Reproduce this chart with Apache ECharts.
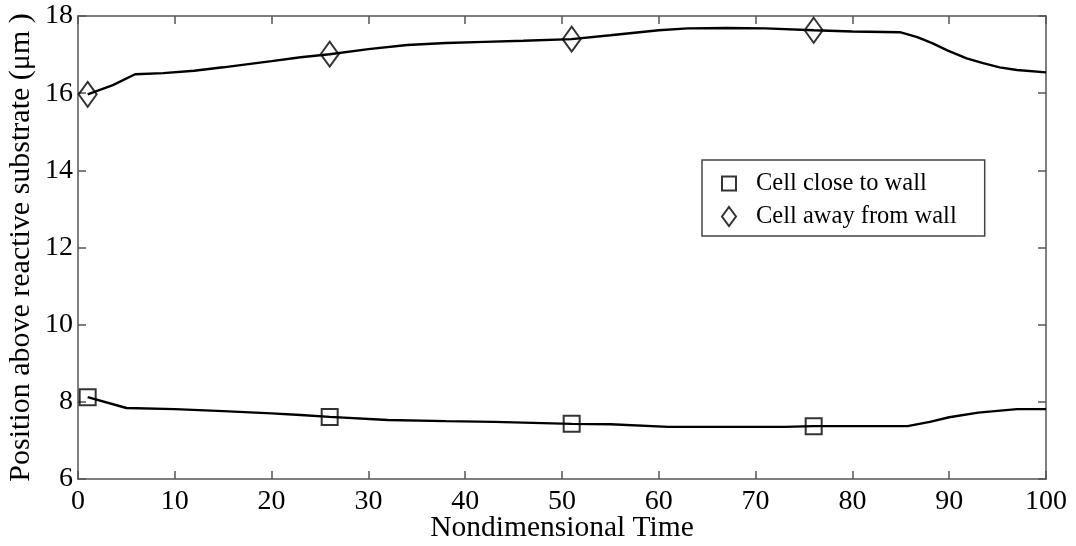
<!DOCTYPE html>
<html><head><meta charset="utf-8">
<script src="https://cdn.jsdelivr.net/npm/echarts@6/dist/echarts.min.js"></script>
<style>html,body{margin:0;padding:0;background:#fff}#c{width:1076px;height:546px}</style>
</head><body><div id="c"></div>
<script>
// Data
const awayTime = [1,3.6,5.9,8.8,12,15,20,23,26,30,34,38,42,46,51,55,60,63,67,71,76,80,84.9,86.7,88.3,89.8,91.8,93.5,95.2,97,100];
const awayPos  = [15.97,16.21,16.49,16.52,16.58,16.67,16.83,16.93,17.01,17.14,17.25,17.3,17.33,17.36,17.40,17.5,17.63,17.68,17.69,17.68,17.63,17.6,17.58,17.45,17.29,17.11,16.9,16.78,16.67,16.6,16.54];
const closeTime = [1,5,10,15,20,23,26,32,38,43,51,55,61,73,76,85.7,88,90,93,97,100];
const closePos  = [8.12,7.84,7.81,7.76,7.7,7.66,7.61,7.53,7.5,7.48,7.43,7.42,7.35,7.35,7.37,7.37,7.48,7.6,7.72,7.81,7.81];
const markTime = [1,26,51,76];
const markClose = [8.12,7.61,7.43,7.37];
const markAway = [15.97,17.01,17.40,17.63];
const xTicks = {min:0,max:100,interval:10};
const yTicks = {min:6,max:18,interval:2};
const seriesNames = ['Cell close to wall','Cell away from wall'];

const zip = (a,b)=>a.map((v,i)=>[v,b[i]]);
const font = 'Liberation Serif';
const axisCol = '#555';
const chart = echarts.init(document.getElementById('c'));
const baseX = {type:'value', min:xTicks.min, max:xTicks.max, interval:xTicks.interval,
  axisLine:{show:true,onZero:false,lineStyle:{color:axisCol,width:1.5}},
  axisTick:{show:true,inside:true,length:8,lineStyle:{color:axisCol,width:1.5}},
  splitLine:{show:false}};
const baseY = {type:'value', min:yTicks.min, max:yTicks.max, interval:yTicks.interval,
  axisLine:{show:true,onZero:false,lineStyle:{color:axisCol,width:1.5}},
  axisTick:{show:true,inside:true,length:8,lineStyle:{color:axisCol,width:1.5}},
  splitLine:{show:false}};
chart.setOption({
  animation:false,
  grid:{left:78,right:30,top:16,bottom:67,containLabel:false,outerBoundsMode:'none'},
  xAxis:[
    Object.assign({},baseX,{position:'bottom',name:'Nondimensional Time',nameLocation:'middle',nameGap:34,nameMoveOverlap:false,
      nameTextStyle:{fontFamily:font,fontSize:29.5,color:'#000'},
      axisLabel:{fontFamily:font,fontSize:28,color:'#000',margin:9}}),
    Object.assign({},baseX,{position:'top',axisLabel:{show:false}})
  ],
  yAxis:[
    Object.assign({},baseY,{position:'left',name:'Position above reactive substrate (\u03bcm )',nameLocation:'middle',nameGap:42,nameMoveOverlap:false,
      nameTextStyle:{fontFamily:font,fontSize:30,color:'#000'},
      axisLabel:{fontFamily:font,fontSize:28,color:'#000',margin:5}}),
    Object.assign({},baseY,{position:'right',axisLabel:{show:false}})
  ],
  legend:{
    left:702, top:160, orient:'vertical',
    data:[{name:seriesNames[0],icon:'path://M0,0H10V10H0Z'},{name:seriesNames[1],icon:'diamond'}],
    itemWidth:14, itemHeight:19, itemGap:8,
    padding:[11,28,7,19],
    borderColor:'#444', borderWidth:1.5, borderRadius:0,
    backgroundColor:'#fff',
    textStyle:{fontFamily:font,fontSize:24.5,color:'#000',lineHeight:25,padding:[0,0,0,15]}
  },
  series:[
    {type:'line',data:zip(closeTime,closePos),showSymbol:false,lineStyle:{color:'#000',width:2.4},silent:true},
    {type:'line',data:zip(awayTime,awayPos),showSymbol:false,lineStyle:{color:'#000',width:2.4},silent:true},
    {type:'scatter',name:seriesNames[0],data:zip(markTime,markClose),symbol:'path://M0,0H10V10H0Z',symbolKeepAspect:true,symbolSize:16,
      itemStyle:{color:'rgba(255,255,255,0)',borderColor:'#000',borderWidth:2}},
    {type:'scatter',name:seriesNames[1],data:zip(markTime,markAway),symbol:'diamond',symbolSize:[18,25],
      itemStyle:{color:'rgba(255,255,255,0)',borderColor:'#000',borderWidth:2}}
  ]
});
</script></body></html>
